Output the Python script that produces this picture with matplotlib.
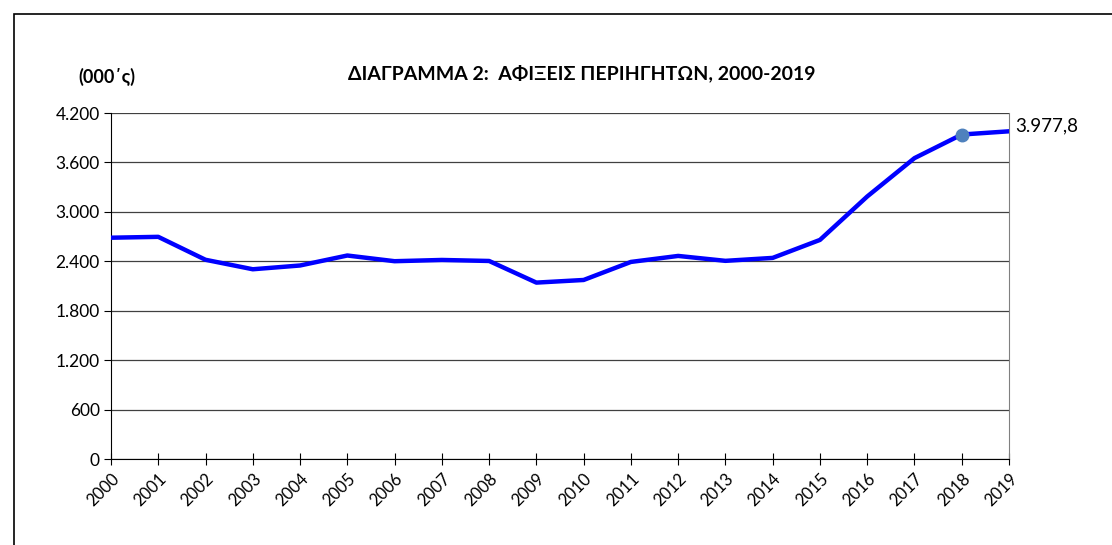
import matplotlib.pyplot as plt
from matplotlib.patches import Rectangle
from matplotlib.ticker import FuncFormatter

plt.rcParams['font.family'] = ['Lato', 'DejaVu Sans']

years = [str(y) for y in range(2000, 2020)]
arrivals = [2686.2, 2696.7, 2418.2, 2303.2, 2349.0, 2470.1, 2401.0, 2416.1, 2403.8, 2141.2,
            2173.1, 2392.2, 2465.0, 2405.4, 2441.2, 2659.4, 3186.5, 3652.1, 3938.6, 3977.8]
yticks = [0, 600, 1200, 1800, 2400, 3000, 3600, 4200]


def greek_num(v, dec=0):
    s = f"{v:,.{dec}f}"
    return s.replace(',', 'X').replace('.', ',').replace('X', '.')


W, H = 1112, 545
fig = plt.figure(figsize=(W / 100, H / 100), dpi=100)
ax = fig.add_axes([111 / W, 1 - 459 / H, (1009 - 111) / W, (459 - 113) / H])

# outer chart border
fig.patches.append(Rectangle((14 / W, -0.05), 1.2, 1 - 14 / H + 0.05, transform=fig.transFigure,
                             fill=False, edgecolor='black', linewidth=1.2))

x = list(range(len(years)))
ax.plot(x, arrivals, color='#0000FF', linewidth=3.2, solid_capstyle='round', zorder=3)
ax.plot(x[-2], arrivals[-2], 'o', color='#4F81BD', markersize=9, zorder=4)
ax.text(x[-1] + 0.14, arrivals[-1] + 60, greek_num(arrivals[-1], 1),
        fontsize=13.5, ha='left', va='center')

ax.set_xlim(0, len(years) - 1)
ax.set_ylim(0, 4200)
ax.set_yticks(yticks)
ax.yaxis.set_major_formatter(FuncFormatter(lambda v, p: greek_num(v)))
ax.set_xticks(x)
ax.set_xticklabels(years, rotation=45, ha='right', rotation_mode='anchor', fontsize=12)
ax.tick_params(axis='y', labelsize=12.5, length=5, width=0.8, pad=3)
ax.tick_params(axis='x', direction='inout', length=8, width=0.8, pad=4)
ax.grid(axis='y', color='#404040', linewidth=0.9)
ax.set_axisbelow(True)
ax.spines['top'].set_visible(False)
ax.spines['right'].set_color('#808080')

fig.text(582 / W, 1 - 73 / H, 'ΔΙΑΓΡΑΜΜΑ 2:  ΑΦΙΞΕΙΣ ΠΕΡΙΗΓΗΤΩΝ, 2000-2019',
         ha='center', va='center', fontsize=14, fontweight='bold')
fig.text(78 / W, 1 - 77 / H, '(000΄ς)', ha='left', va='center', fontsize=13, fontweight='bold')

fig.savefig('out.png', dpi=100)
